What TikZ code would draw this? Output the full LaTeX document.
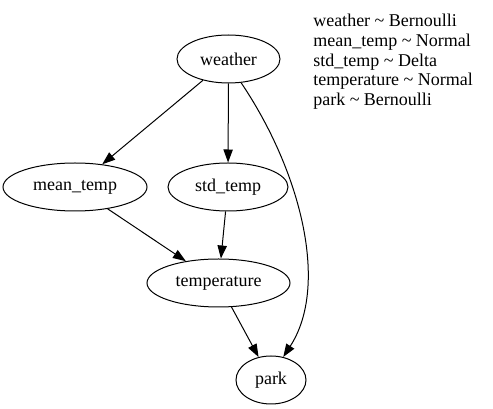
\documentclass[tikz,border=0pt]{standalone}
\usepackage{fontspec}
\setmainfont{Liberation Serif}
\usetikzlibrary{positioning,arrows.meta,shapes.geometric}
\tikzset{
  flowarrow/.style={-{Triangle[length=9.75pt, width=7pt]}, line width=0.75pt},
  varnode/.style={draw, ellipse, line width=0.75pt, inner sep=0pt, minimum height=36pt, minimum width=#1},
  distlist/.style={align=left, inner sep=0pt, anchor=north west, font=\fontsize{13.5}{14.8}\selectfont}
}
\begin{document}
\begin{tikzpicture}[x=0.75pt, y=-0.75pt, every node/.style={font=\fontsize{13.5}{16}\selectfont}]
  \useasboundingbox (0,0) rectangle (493,409);
  \node[varnode=77.25pt] (weather) at (228.5,59) {weather};
  \node[varnode=108pt] (meantemp) at (75,187) {mean\_temp};
  \node[varnode=90pt] (stdtemp) at (228,187) {std\_temp};
  \node[varnode=107.25pt] (temperature) at (218.5,283) {temperature};
  \node[varnode=52.5pt] (park) at (271,380) {park};
  \node[distlist] (dists) at (313,14) {weather \textasciitilde{} Bernoulli\\mean\_temp \textasciitilde{} Normal\\std\_temp \textasciitilde{} Delta\\temperature \textasciitilde{} Normal\\park \textasciitilde{} Bernoulli};
  \draw[flowarrow] (weather) -- (meantemp);
  \draw[flowarrow] (weather) -- (stdtemp);
  \draw[flowarrow] (meantemp) -- (temperature);
  \draw[flowarrow] (stdtemp) -- (temperature);
  \draw[flowarrow] (temperature) -- (park);
  \draw[flowarrow] (weather.-62) .. controls (300,170) and (330,285) .. (park.62);
\end{tikzpicture}
\end{document}
